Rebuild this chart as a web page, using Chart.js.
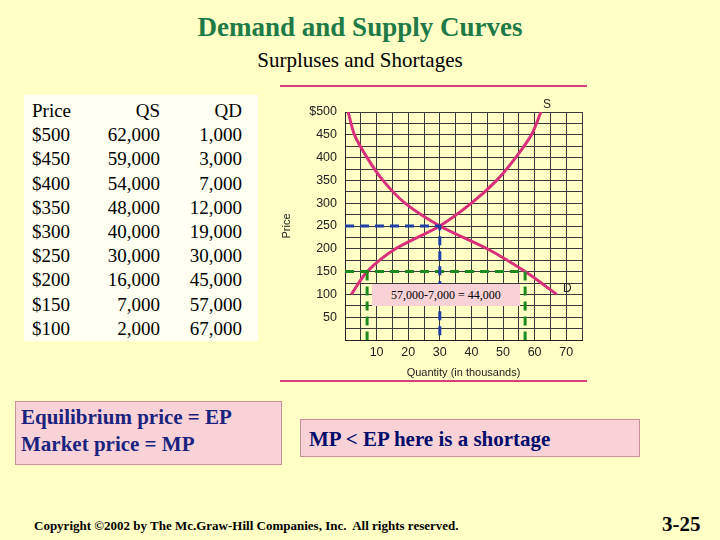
<!DOCTYPE html>
<html><head><meta charset="utf-8">
<script src="https://cdn.jsdelivr.net/npm/chart.js@4"></script>
<style>
body{margin:0;width:720px;height:540px;background:#FFFFC6;position:relative;font-family:"Liberation Serif",serif;overflow:hidden}
.abs{position:absolute}
#t1{left:0;width:720px;top:12px;text-align:center;font-size:27px;font-weight:bold;color:#1E7A46}
#t2{left:0;width:720px;top:48px;text-align:center;font-size:21px;color:#000}
#tbl{left:24px;top:95px;width:234px;height:246px;background:#FFFFF2}
#tbl table{border-collapse:collapse;font-size:19px;line-height:24.2px;margin-top:4px;margin-left:8px}
#tbl td{padding:0;text-align:right}
.box{background:#F9D2D8;border:1px solid #C89098;font-weight:bold;color:#1A237E;font-size:21px}
#ep{left:15px;top:401px;width:260px;height:60px;padding:2px 0 0 5px;line-height:27px}
#mp{left:300px;top:419px;width:330px;height:36px;padding-left:8px;line-height:38px;color:#000B6B}
#lab{left:372px;top:284px;width:148px;height:22px;background:#F9D2D8;font-size:12px;line-height:22px;text-align:center}
.hr{height:2px;background:#D8407A;left:280px;width:307px}
#copy{left:34px;top:518px;font-size:13px;font-weight:bold}
#pg{left:662px;top:512px;font-size:21px;font-weight:bold}
</style></head><body>
<div id="t1" class="abs">Demand and Supply Curves</div>
<div id="t2" class="abs">Surpluses and Shortages</div>
<div id="tbl" class="abs"><table id="tb"></table></div>
<div class="abs hr" style="top:85px"></div>
<div class="abs hr" style="top:380px"></div>
<div class="abs" style="left:280px;top:95px;width:310px;height:285px"><canvas id="c" width="310" height="285"></canvas></div>
<div id="lab" class="abs">57,000-7,000 = 44,000</div>
<div id="ep" class="abs box">Equilibrium price = EP<br>Market price = MP</div>
<div id="mp" class="abs box">MP &lt; EP here is a shortage</div>
<div id="copy" class="abs">Copyright &copy;2002 by The Mc.Graw-Hill Companies, Inc.&nbsp; All rights reserved.</div>
<div id="pg" class="abs">3-25</div>
<script>
const prices = [500, 450, 400, 350, 300, 250, 200, 150, 100];
const qs = [62000, 59000, 54000, 48000, 40000, 30000, 16000, 7000, 2000];
const qd = [1000, 3000, 7000, 12000, 19000, 30000, 45000, 57000, 67000];
const equilibrium = { q: 30, p: 250 };
const marketPrice = 150;
const shortQ = [7, 57];

const tb = document.getElementById('tb');
tb.innerHTML = '<tr><td style="text-align:left;width:62px">Price</td><td style="width:66px">QS</td><td style="width:82px">QD</td></tr>' +
    prices.map((p, i) => '<tr><td style="text-align:left">$' + p + '</td><td>' + qs[i].toLocaleString('en-US') +
        '</td><td>' + qd[i].toLocaleString('en-US') + '</td></tr>').join('');

const pink = '#D8307A';
const curve = (q) => ({
    data: q.map((v, i) => ({ x: v / 1000, y: prices[i] })),
    borderColor: pink, borderWidth: 3, pointRadius: 0, tension: 0.3,
});
const dashed = (pts, color) => ({
    data: pts, borderColor: color, borderWidth: 3, borderDash: [9, 6], pointRadius: 0, tension: 0,
});

new Chart(document.getElementById('c'), {
    type: 'line',
    data: {
        datasets: [
            dashed([{ x: 0, y: equilibrium.p }, { x: equilibrium.q, y: equilibrium.p }, { x: equilibrium.q, y: 0 }], '#1F3FA8'),
            dashed([{ x: 0, y: marketPrice }, { x: shortQ[1], y: marketPrice }], '#1E8A1E'),
            dashed([{ x: shortQ[0], y: marketPrice }, { x: shortQ[0], y: -20 }], '#1E8A1E'),
            dashed([{ x: shortQ[1], y: marketPrice }, { x: shortQ[1], y: -20 }], '#1E8A1E'),
            curve(qs),
            curve(qd),
        ],
    },
    plugins: [{
        id: 'sd',
        afterDraw(chart) {
            const { ctx, scales: { x, y } } = chart;
            ctx.save();
            ctx.font = '12px "Liberation Sans"';
            ctx.fillStyle = '#222';
            ctx.fillText('S', x.getPixelForValue(62) + 2, y.getPixelForValue(508));
            ctx.fillText('D', x.getPixelForValue(69), y.getPixelForValue(105));
            ctx.restore();
        },
    }],
    options: {
        responsive: false, animation: false,
        layout: { padding: { top: 17, right: 8 } },
        plugins: { legend: { display: false }, tooltip: { enabled: false } },
        scales: {
            x: {
                type: 'linear', min: 0, max: 75,
                afterFit: (s) => { s.height = 40; },
                grid: { color: '#3a3a3a', drawTicks: false },
                border: { color: '#222' },
                ticks: { stepSize: 5, autoSkip: false, maxRotation: 0, color: '#222', padding: 5,
                    font: { family: 'Liberation Sans', size: 12.5 },
                    callback: (v) => (v % 10 === 0 && v > 0 ? v : '') },
                title: { display: true, text: 'Quantity (in thousands)', color: '#222', font: { family: 'Liberation Sans', size: 11 }, padding: 0 },
            },
            y: {
                min: 0, max: 500,
                afterFit: (s) => { s.width = 65; },
                grid: { color: '#3a3a3a', drawTicks: false },
                border: { color: '#222' },
                ticks: { stepSize: 25, autoSkip: false, color: '#222', font: { family: 'Liberation Sans', size: 12.5 }, padding: 8,
                    callback: (v) => (v === 500 ? '$500' : v % 50 === 0 && v > 0 ? v : '') },
                title: { display: true, text: 'Price', color: '#222', font: { family: 'Liberation Sans', size: 11 }, padding: 0 },
            },
        },
    },
});
</script>
</body></html>
